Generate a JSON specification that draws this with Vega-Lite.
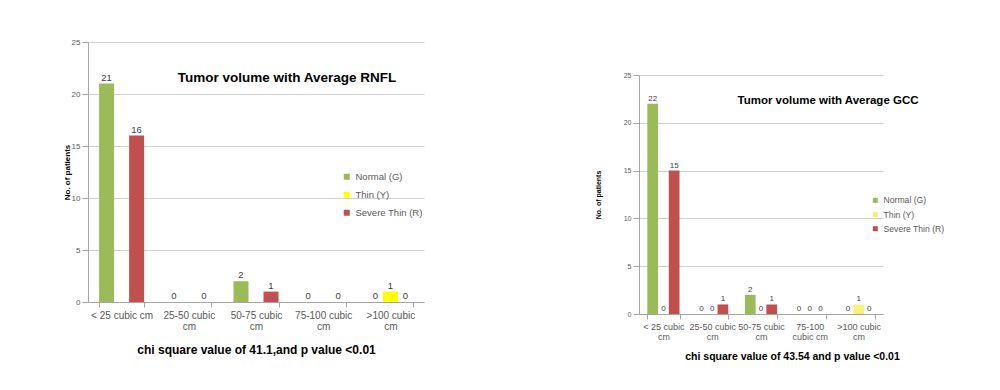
{
  "$schema": "https://vega.github.io/schema/vega-lite/v6.json",
  "background": "white",
  "padding": {"left": 63, "top": 38, "right": 5, "bottom": 5},
  "config": {
    "view": {"stroke": null},
    "font": "Liberation Sans",
    "axis": {"labelColor": "#595959", "domainColor": "#a6a6a6", "tickColor": "#a6a6a6", "gridColor": "#cfcfcf", "titleColor": "#000000", "labelFont": "Liberation Sans", "titleFont": "Liberation Sans"},
    "legend": {"labelFont": "Liberation Sans"}
  },
  "datasets": {
    "rnfl": [
      {"volume": "< 25 cubic cm", "grade": "Normal (G)", "patients": 21},
      {"volume": "< 25 cubic cm", "grade": "Thin (Y)", "patients": null},
      {"volume": "< 25 cubic cm", "grade": "Severe Thin (R)", "patients": 16},
      {"volume": "25-50 cubic cm", "grade": "Normal (G)", "patients": 0},
      {"volume": "25-50 cubic cm", "grade": "Thin (Y)", "patients": null},
      {"volume": "25-50 cubic cm", "grade": "Severe Thin (R)", "patients": 0},
      {"volume": "50-75 cubic cm", "grade": "Normal (G)", "patients": 2},
      {"volume": "50-75 cubic cm", "grade": "Thin (Y)", "patients": null},
      {"volume": "50-75 cubic cm", "grade": "Severe Thin (R)", "patients": 1},
      {"volume": "75-100 cubic cm", "grade": "Normal (G)", "patients": 0},
      {"volume": "75-100 cubic cm", "grade": "Thin (Y)", "patients": null},
      {"volume": "75-100 cubic cm", "grade": "Severe Thin (R)", "patients": 0},
      {"volume": ">100 cubic cm", "grade": "Normal (G)", "patients": 0},
      {"volume": ">100 cubic cm", "grade": "Thin (Y)", "patients": 1},
      {"volume": ">100 cubic cm", "grade": "Severe Thin (R)", "patients": 0}
    ],
    "gcc": [
      {"volume": "< 25 cubic cm", "grade": "Normal (G)", "patients": 22},
      {"volume": "< 25 cubic cm", "grade": "Thin (Y)", "patients": 0},
      {"volume": "< 25 cubic cm", "grade": "Severe Thin (R)", "patients": 15},
      {"volume": "25-50 cubic cm", "grade": "Normal (G)", "patients": 0},
      {"volume": "25-50 cubic cm", "grade": "Thin (Y)", "patients": 0},
      {"volume": "25-50 cubic cm", "grade": "Severe Thin (R)", "patients": 1},
      {"volume": "50-75 cubic cm", "grade": "Normal (G)", "patients": 2},
      {"volume": "50-75 cubic cm", "grade": "Thin (Y)", "patients": 0},
      {"volume": "50-75 cubic cm", "grade": "Severe Thin (R)", "patients": 1},
      {"volume": "75-100 cubic cm", "grade": "Normal (G)", "patients": 0},
      {"volume": "75-100 cubic cm", "grade": "Thin (Y)", "patients": 0},
      {"volume": "75-100 cubic cm", "grade": "Severe Thin (R)", "patients": 0},
      {"volume": ">100 cubic cm", "grade": "Normal (G)", "patients": 0},
      {"volume": ">100 cubic cm", "grade": "Thin (Y)", "patients": 1},
      {"volume": ">100 cubic cm", "grade": "Severe Thin (R)", "patients": 0}
    ]
  },
  "resolve": {"scale": {"color": "independent", "x": "independent", "y": "independent", "xOffset": "independent"}, "legend": {"color": "independent"}},
  "spacing": 170,
  "hconcat": [
    {
      "width": 336,
      "height": 260,
      "data": {"name": "rnfl"},
      "title": {"text": "Tumor volume  with Average RNFL", "anchor": "middle", "offset": 0, "dx": 31, "dy": 46, "fontSize": 13.5, "fontWeight": "bold", "font": "Liberation Sans", "color": "#000000"},
      "encoding": {
        "x": {
          "field": "volume", "type": "nominal",
          "sort": ["< 25 cubic cm", "25-50 cubic cm", "50-75 cubic cm", "75-100 cubic cm", ">100 cubic cm"],
          "scale": {"paddingInner": 0.33, "paddingOuter": 0.165},
          "axis": {
            "labelAngle": 0, "tickBand": "extent", "tickSize": 5, "labelPadding": 3, "labelFontSize": 10, "labelLineHeight": 11,
            "labelExpr": "!isValid(datum.value) ? '' : datum.value == '< 25 cubic cm' ? datum.value : [replace(datum.value, ' cm', ''), 'cm']",
            "title": "chi square value of 41.1,and p value <0.01", "titleFontSize": 12, "titleFontWeight": "bold", "titlePadding": 13
          }
        },
        "xOffset": {"field": "grade", "type": "nominal", "sort": ["Normal (G)", "Thin (Y)", "Severe Thin (R)"], "scale": {"domain": ["Normal (G)", "Thin (Y)", "Severe Thin (R)"]}},
        "y": {
          "field": "patients", "type": "quantitative",
          "scale": {"domain": [0, 25]},
          "axis": {"values": [0, 5, 10, 15, 20, 25], "grid": true, "tickSize": 6, "labelFontSize": 8, "labelPadding": 2, "title": "No. of patients", "titleFontSize": 8, "titleFontWeight": "bold", "titlePadding": 0}
        }
      },
      "layer": [
        {
          "mark": {"type": "bar"},
          "encoding": {
            "color": {
              "field": "grade", "type": "nominal",
              "scale": {"domain": ["Normal (G)", "Thin (Y)", "Severe Thin (R)"], "range": ["#9bbb59", "#ffff00", "#c0504d"]},
              "legend": {"orient": "none", "legendX": 254, "legendY": 130, "title": null, "symbolType": "square", "symbolSize": 36, "symbolStrokeWidth": 0, "labelFontSize": 9.5, "rowPadding": 7, "labelColor": "#595959"}
            }
          }
        },
        {
          "mark": {"type": "text", "dy": -6, "fontSize": 9.5, "color": "#404040"},
          "encoding": {"text": {"field": "patients", "type": "quantitative"}}
        }
      ]
    },
    {
      "spacing": 20,
      "vconcat": [
        {
          "width": 244,
          "height": 9,
          "data": {"values": [{"a": 0}]},
          "mark": {"type": "rule", "opacity": 0},
          "encoding": {}
        },
        {
          "width": 244,
          "height": 239,
          "data": {"name": "gcc"},
          "title": {"text": "Tumor volume with Average GCC", "anchor": "middle", "offset": 0, "dx": 67, "dy": 35, "fontSize": 11.5, "fontWeight": "bold", "font": "Liberation Sans", "color": "#000000"},
          "encoding": {
            "x": {
              "field": "volume", "type": "nominal",
              "sort": ["< 25 cubic cm", "25-50 cubic cm", "50-75 cubic cm", "75-100 cubic cm", ">100 cubic cm"],
              "scale": {"paddingInner": 0.34, "paddingOuter": 0.17},
              "axis": {
                "labelAngle": 0, "tickBand": "extent", "tickSize": 5, "labelPadding": 3, "labelFontSize": 9, "labelLineHeight": 10,
                "labelExpr": "!isValid(datum.value) ? '' : datum.value == '75-100 cubic cm' ? ['75-100', 'cubic cm'] : [replace(datum.value, ' cm', ''), 'cm']",
                "title": "chi square value of 43.54 and p value <0.01", "titleFontSize": 10.5, "titleFontWeight": "bold", "titlePadding": 10, "titleX": 153
              }
            },
            "xOffset": {"field": "grade", "type": "nominal", "sort": ["Normal (G)", "Thin (Y)", "Severe Thin (R)"], "scale": {"domain": ["Normal (G)", "Thin (Y)", "Severe Thin (R)"]}},
            "y": {
              "field": "patients", "type": "quantitative",
              "scale": {"domain": [0, 25]},
              "axis": {"values": [0, 5, 10, 15, 20, 25], "grid": true, "tickSize": 6, "labelFontSize": 7, "labelPadding": 2, "title": "No. of patients", "titleFontSize": 7, "titleFontWeight": "bold", "titlePadding": 22}
            }
          },
          "layer": [
            {
              "mark": {"type": "bar"},
              "encoding": {
                "color": {
                  "field": "grade", "type": "nominal",
                  "scale": {"domain": ["Normal (G)", "Thin (Y)", "Severe Thin (R)"], "range": ["#9bbb59", "#f7f07c", "#c0504d"]},
                  "legend": {"orient": "none", "legendX": 232, "legendY": 154, "title": null, "symbolType": "square", "symbolSize": 25, "symbolStrokeWidth": 0, "labelFontSize": 8.6, "rowPadding": 5.2, "labelColor": "#595959"}
                }
              }
            },
            {
              "mark": {"type": "text", "dy": -5, "fontSize": 8, "color": "#404040"},
              "encoding": {"text": {"field": "patients", "type": "quantitative"}}
            }
          ]
        }
      ]
    }
  ]
}
